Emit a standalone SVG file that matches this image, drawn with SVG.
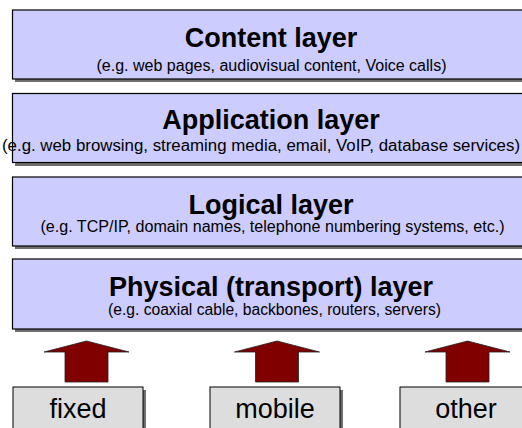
<svg xmlns="http://www.w3.org/2000/svg" width="522" height="428" viewBox="0 0 522 428">
<defs>
<style>
.layer{fill:#ccccff;stroke:#000;stroke-width:1.2}
.shadow{fill:#6e6e6e}
.title{font-family:"Liberation Sans",Arial,sans-serif;font-weight:bold;font-size:27px;fill:#000;text-anchor:middle}
.sub{font-family:"Liberation Sans",Arial,sans-serif;font-size:16px;fill:#000;text-anchor:middle}
.src{fill:#dddddd;stroke:#000;stroke-width:1}
.srct{font-family:"Liberation Sans",Arial,sans-serif;font-size:27px;fill:#000;text-anchor:middle}
.arrow{fill:#800000;stroke:#222;stroke-width:0.8}
</style>
</defs>
<rect width="522" height="428" fill="#fff"/>
<g id="content-layer">
<rect class="shadow" x="15" y="12" width="520" height="70"/>
<rect class="layer" x="12.5" y="10" width="520" height="69"/>
<text class="title" x="271" y="46.5">Content layer</text>
<text class="sub" x="271.5" y="71" textLength="350" lengthAdjust="spacingAndGlyphs">(e.g. web pages, audiovisual content, Voice calls)</text>
</g>
<g id="application-layer">
<rect class="shadow" x="15" y="96" width="520" height="70"/>
<rect class="layer" x="12.5" y="93.5" width="520" height="69"/>
<text class="title" x="271" y="129">Application layer</text>
<text class="sub" x="261" y="151" textLength="518" lengthAdjust="spacingAndGlyphs">(e.g. web browsing, streaming media, email, VoIP, database services)</text>
</g>
<g id="logical-layer">
<rect class="shadow" x="15" y="179" width="520" height="70"/>
<rect class="layer" x="12.5" y="177" width="520" height="69"/>
<text class="title" x="271" y="213.5">Logical layer</text>
<text class="sub" x="272.5" y="232" textLength="464" lengthAdjust="spacingAndGlyphs">(e.g. TCP/IP, domain names, telephone numbering systems, etc.)</text>
</g>
<g id="physical-layer">
<rect class="shadow" x="15" y="261" width="520" height="71"/>
<rect class="layer" x="12.5" y="259" width="520" height="70"/>
<text class="title" x="271" y="295.5">Physical (transport) layer</text>
<text class="sub" x="274.5" y="315" textLength="333" lengthAdjust="spacingAndGlyphs">(e.g. coaxial cable, backbones, routers, servers)</text>
</g>
<g id="connectors">
<path class="arrow" d="M86.5,341 L129,352 L108,352 L108,382 L65,382 L65,352 L44,352 Z"/>
<path class="arrow" d="M277,341 L319.5,352 L298.5,352 L298.5,382 L255.5,382 L255.5,352 L234.5,352 Z"/>
<path class="arrow" d="M467.5,341 L510,352 L489,352 L489,382 L446,382 L446,352 L425,352 Z"/>
</g>
<g id="fixed">
<rect class="shadow" x="16" y="390" width="130" height="45"/>
<rect class="src" x="13" y="387" width="130" height="45"/>
<text class="srct" x="78" y="418">fixed</text>
</g>
<g id="mobile">
<rect class="shadow" x="213" y="390" width="130" height="45"/>
<rect class="src" x="210" y="387" width="130" height="45"/>
<text class="srct" x="275" y="418">mobile</text>
</g>
<g id="other">
<rect class="shadow" x="403" y="390" width="130" height="45"/>
<rect class="src" x="400" y="387" width="130" height="45"/>
<text class="srct" x="466" y="418">other</text>
</g>
</svg>
